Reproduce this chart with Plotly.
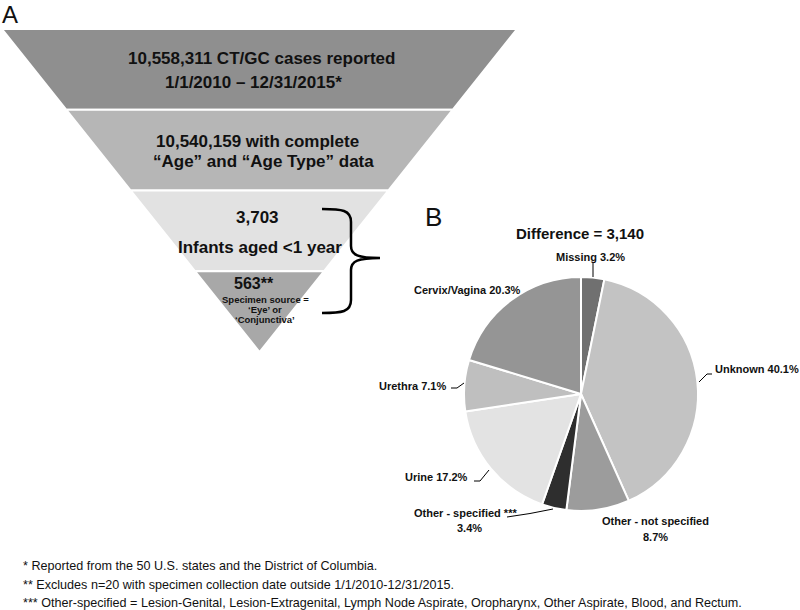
import plotly.graph_objects as go

# ---------------- data ----------------
funnel_levels = ["reported", "complete age", "infants", "eye"]
funnel_colors = ["#8f8f8f", "#b6b6b6", "#e2e2e2", "#a8a8a8"]

pie_labels = ["Missing", "Unknown", "Other - not specified", "Other - specified ***",
              "Urine", "Urethra", "Cervix/Vagina"]
pie_values = [3.2, 40.1, 8.7, 3.4, 17.2, 7.1, 20.3]
pie_colors = ["#707070", "#c3c3c3", "#9c9c9c", "#2e2e2e", "#e3e3e3", "#bfbfbf", "#959595"]

footnotes = [
    "* Reported from the 50 U.S. states and the District of Columbia.",
    "** Excludes n=20 with specimen collection date outside 1/1/2010-12/31/2015.",
    "*** Other-specified = Lesion-Genital, Lesion-Extragenital, Lymph Node Aspirate, Oropharynx, Other Aspirate, Blood, and Rectum.",
]

W, H = 800, 610
BOLD = "Liberation Sans, Arial, Helvetica, sans-serif"

fig = go.Figure()

# ---------------- funnel (inverted triangle) ----------------
top_y, apex_y, cx, half_top = 29.0, 352.0, 259.5, 257.5
n = len(funnel_levels)
h = (apex_y - top_y) / n


def hw(y):
    return half_top * (apex_y - y) / (apex_y - top_y)


for i, col in enumerate(funnel_colors):
    y0 = top_y + i * h
    y1 = y0 + h
    xs = [cx - hw(y0), cx + hw(y0), cx + hw(y1), cx - hw(y1), cx - hw(y0)]
    ys = [y0, y0, y1, y1, y0]
    fig.add_trace(go.Scatter(x=xs, y=ys, mode="lines", fill="toself", fillcolor=col,
                             line=dict(color="white", width=2), hoverinfo="skip",
                             showlegend=False))

# ---------------- pie ----------------
pcx, pcy, r = 581.0, 394.0, 117.0
fig.add_trace(go.Pie(
    labels=pie_labels, values=pie_values, sort=False, direction="clockwise", rotation=0,
    marker=dict(colors=pie_colors, line=dict(color="white", width=2)),
    textinfo="none", hoverinfo="label+percent", showlegend=False,
    domain=dict(x=[(pcx - r) / W, (pcx + r) / W], y=[(H - pcy - r) / H, (H - pcy + r) / H]),
))

# ---------------- text ----------------
ann = []


def t(x, y, s, size, bold=True, anchor="center", family=BOLD, color="#111", yanchor="middle"):
    ann.append(dict(x=x, y=y, xref="x", yref="y", text=("<b>%s</b>" % s) if bold else s,
                    showarrow=False, xanchor=anchor, yanchor=yanchor, borderpad=0,
                    font=dict(size=size, family=family, color=color)))


t(10, 0, "A", 24, bold=False, yanchor="top")
t(433, 217, "B", 26, bold=False)

t(261.5, 58, "10,558,311 CT/GC cases reported", 17)
t(253.5, 82, "1/1/2010 – 12/31/2015*", 17)
t(155, 141, "10,540,159 with complete", 17, anchor="left")
t(152, 161, "“Age” and “Age Type” data", 17, anchor="left")
t(257.5, 217, "3,703", 17)
t(260, 247, "Infants aged <1 year", 17)
t(254, 283, "563**", 16)
t(265, 299, "Specimen source =", 9.5)
t(265, 309.5, "‘Eye’ or", 9.5)
t(265, 319.5, "‘Conjunctiva’", 9.5)

t(580, 233, "Difference = 3,140", 15)
lab = {lbl: f"{lbl} {v}%" for lbl, v in zip(pie_labels, pie_values)}
t(590, 257, lab["Missing"], 11)
t(714, 369, lab["Unknown"], 11, anchor="left")
t(655, 521, "Other - not specified", 11)
t(655, 537, "%s%%" % pie_values[2], 11)
t(465, 513, "Other - specified ***", 11)
t(469, 528, "%s%%" % pie_values[3], 11)
t(469, 477, lab["Urine"], 11, anchor="right")
t(447, 386, lab["Urethra"], 11, anchor="right")
t(413, 290, lab["Cervix/Vagina"], 11, anchor="left")

for i, f in enumerate(footnotes):
    t(22, [566, 585, 603][i], f, 12.6, bold=False, anchor="left",
      family="Liberation Sans Narrow, Arial Narrow, Liberation Sans, sans-serif")

# ---------------- shapes: brace + leader lines ----------------
shapes = []


def path(d, w=1.0):
    shapes.append(dict(type="path", path=d, xref="x", yref="y",
                       line=dict(color="black", width=w)))


path("M 322 209 C 342 209, 351 210, 351 222 L 351 246 C 351 255, 358 258, 380 258 "
     "C 358 258, 351 261, 351 270 L 351 300 C 351 312, 342 313, 322 313", 2.5)
path("M 593 263 L 593 277")
path("M 699 382 L 707 374 L 712 374")
path("M 451 388 L 457 388 L 464 383")
path("M 474 481 L 480 481 L 489 470")
path("M 507 517 Q 530 514, 553 509")

fig.update_layout(
    width=W, height=H, margin=dict(l=0, r=0, t=0, b=0),
    paper_bgcolor="white", plot_bgcolor="white",
    xaxis=dict(range=[0, W], visible=False, fixedrange=True),
    yaxis=dict(range=[H, 0], visible=False, fixedrange=True),
    annotations=ann, shapes=shapes,
)

fig.write_html("out.html", config={"displayModeBar": False},
               post_script="document.body.style.margin='0';document.body.style.overflow='hidden';")
